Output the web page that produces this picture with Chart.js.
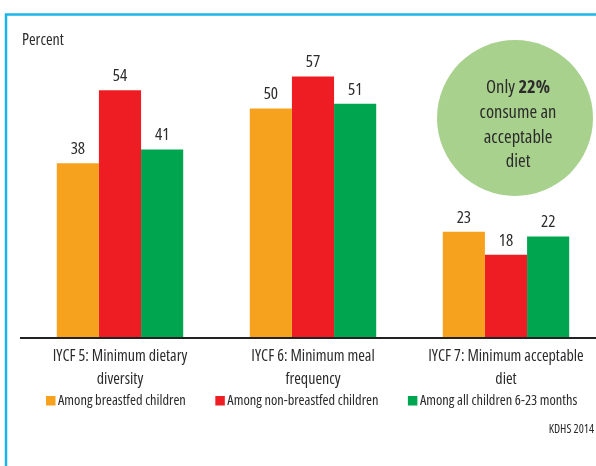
<!DOCTYPE html>
<html><head><meta charset="utf-8">
<script src="https://cdn.jsdelivr.net/npm/chart.js@4.4.1/dist/chart.umd.min.js"></script>
<style>
html,body{margin:0;padding:0;background:#fff;overflow:hidden;}
#wrap{position:relative;width:606px;height:466px;}
</style></head><body>
<div id="wrap"><canvas id="c"></canvas></div>
<script>
const categories = [["IYCF 5: Minimum dietary","diversity"],["IYCF 6: Minimum meal","frequency"],["IYCF 7: Minimum acceptable","diet"]];
const seriesNames = ["Among breastfed children","Among non-breastfed children","Among all children 6-23 months"];
const breastfed = [38, 50, 23];
const nonBreastfed = [54, 57, 18];
const allChildren = [41, 51, 22];
const seriesColors = ["#F7A21F", "#EE1D23", "#00A54F"];
const yAxisTitle = "Percent";
const sourceNote = "KDHS 2014";
const calloutLines = [["Only ", "22%"], ["consume an"], ["acceptable"], ["diet"]];

const FAM = "'Open Sans', 'Roboto', sans-serif";
const CF = (size, bold) => (bold ? "bold " : "") + "condensed " + size + "px " + FAM;
const TXT = "#2b2b2b";

const decor = {
  id: 'decor',
  beforeDraw(chart) {
    const ctx = chart.ctx;
    ctx.save();
    ctx.strokeStyle = "#1CB5E9";
    ctx.lineWidth = 2.5;
    ctx.beginPath();
    ctx.moveTo(6, 470);
    ctx.lineTo(6, 14.5);
    ctx.lineTo(610, 14.5);
    ctx.stroke();
    ctx.restore();
  },
  afterDatasetsDraw(chart) {
    const ctx = chart.ctx;
    const ys = chart.scales.y;
    ctx.save();
    // baseline
    ctx.strokeStyle = "#222";
    ctx.lineWidth = 2;
    ctx.beginPath();
    const y0 = ys.getPixelForValue(0) + 1;
    ctx.moveTo(20, y0);
    ctx.lineTo(610, y0);
    ctx.stroke();
    // value labels
    ctx.fillStyle = TXT;
    ctx.font = CF(17);
    ctx.textAlign = "center";
    ctx.textBaseline = "middle";
    chart.data.datasets.forEach((ds, di) => {
      chart.getDatasetMeta(di).data.forEach((bar, i) => {
        ctx.fillText(String(ds.data[i]), bar.x, bar.y - 14);
      });
    });
    // y title
    ctx.textAlign = "left";
    ctx.font = CF(16);
    ctx.fillText(yAxisTitle, 22, 40);
    // legend
    ctx.font = CF(14.4);
    let lx = 46;
    chart.data.datasets.forEach((ds, di) => {
      ctx.fillStyle = ds.backgroundColor;
      ctx.fillRect(lx, 396, 9.5, 9.5);
      ctx.fillStyle = TXT;
      ctx.fillText(ds.label, lx + 12, 401);
      lx += 12 + ctx.measureText(ds.label).width + 29.5;
    });
    // source
    ctx.textAlign = "right";
    ctx.font = CF(12);
    ctx.fillText(sourceNote, 594, 430);
    // callout circle
    ctx.fillStyle = "#A9D18E";
    ctx.beginPath();
    ctx.arc(515, 118, 78, 0, Math.PI * 2);
    ctx.fill();
    ctx.fillStyle = TXT;
    ctx.textAlign = "left";
    calloutLines.forEach((parts, li) => {
      const y = 88 + li * 24.7;
      const fonts = parts.map((p, pi) => CF(18.5, pi === 1));
      let w = 0;
      parts.forEach((p, pi) => { ctx.font = fonts[pi]; w += ctx.measureText(p).width; });
      let x = 518 - w / 2;
      parts.forEach((p, pi) => { ctx.font = fonts[pi]; ctx.fillText(p, x, y); x += ctx.measureText(p).width; });
    });
    ctx.restore();
  }
};

const datasets = [breastfed, nonBreastfed, allChildren].map((d, i) => ({
  label: seriesNames[i],
  data: d,
  backgroundColor: seriesColors[i],
  borderWidth: 0,
  categoryPercentage: 0.655,
  barPercentage: 1.0
}));

new Chart(document.getElementById('c'), {
  type: 'bar',
  data: { labels: categories, datasets },
  options: {
    responsive: true,
    maintainAspectRatio: false,
    animation: false,
    layout: { padding: { left: 23.5, right: 3.5, top: 17, bottom: 69 } },
    plugins: {
      tooltip: { enabled: false },
      legend: { display: false }
    },
    scales: {
      x: {
        grid: { display: false, drawTicks: false },
        border: { display: false },
        ticks: { color: TXT, font: { family: FAM, weight: "condensed", size: 16, lineHeight: 1.45 }, padding: 8, maxRotation: 0, autoSkip: false },
        afterFit(s) { s.height = 60; }
      },
      y: {
        display: false,
        min: 0, max: 70
      }
    }
  },
  plugins: [decor]
});
</script>
</body></html>
